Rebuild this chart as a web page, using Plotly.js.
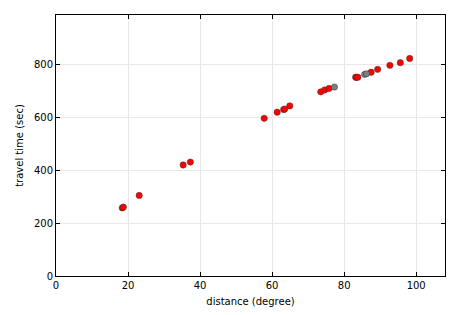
<!DOCTYPE html>
<html>
<head>
<meta charset="utf-8">
<script src="https://cdn.plot.ly/plotly-3.0.1.min.js"></script>
<style>html,body{margin:0;padding:0;background:#fff;}#chart{width:465px;height:315px;}</style>
</head>
<body>
<div id="chart"></div>
<script>
// red (observed) arrivals
const redDistance = [18.4, 18.7, 23.1, 35.3, 37.3, 57.8, 61.4, 63.2, 63.5, 64.9, 73.5, 74.6, 75.8, 83.2, 83.4, 83.8, 87.5, 89.3, 92.7, 95.6, 98.2];
const redTime     = [257, 260, 304, 419, 430, 595, 618, 628, 630, 642, 695, 702, 708, 750, 750, 750, 769, 780, 795, 805, 821];
// gray arrivals
const grayDistance = [77.3, 85.7, 86.2];
const grayTime     = [713, 761, 763];

const xTicks = [0, 20, 40, 60, 80, 100];
const yTicks = [0, 200, 400, 600, 800];

const markerBase = {size: 6.3, line: {color: '#333333', width: 0.5}};

const traces = [
  {x: redDistance, y: redTime, type: 'scatter', mode: 'markers',
   marker: Object.assign({color: '#ff0000'}, markerBase), showlegend: false},
  {x: grayDistance, y: grayTime, type: 'scatter', mode: 'markers',
   marker: Object.assign({color: '#7f7f7f'}, markerBase), showlegend: false}
];

const axisCommon = {
  showline: true, linecolor: '#000', linewidth: 1, mirror: 'allticks',
  ticks: 'inside', ticklen: 4, tickcolor: '#000', tickwidth: 1,
  showgrid: true, gridcolor: '#e8e8e8', gridwidth: 1, zeroline: false,
  tickfont: {family: 'DejaVu Sans', size: 10, color: '#000'}
};

const layout = {
  width: 465, height: 315,
  margin: {l: 55.5, r: 19.5, t: 15, b: 39, pad: 0},
  paper_bgcolor: '#fff', plot_bgcolor: '#fff',
  font: {family: 'DejaVu Sans', size: 10, color: '#000'},
  xaxis: Object.assign({}, axisCommon, {
    range: [0, 108], tickvals: xTicks, ticktext: xTicks.map(String),
    title: {text: 'distance (degree)', font: {family: 'DejaVu Sans', size: 10}, standoff: 7}
  }),
  yaxis: Object.assign({}, axisCommon, {
    range: [0, 985], tickvals: yTicks, ticktext: yTicks.map(String),
    title: {text: 'travel time (sec)', font: {family: 'DejaVu Sans', size: 10}, standoff: 8}
  })
};

Plotly.newPlot('chart', traces, layout, {displayModeBar: false, staticPlot: true});
</script>
</body>
</html>
